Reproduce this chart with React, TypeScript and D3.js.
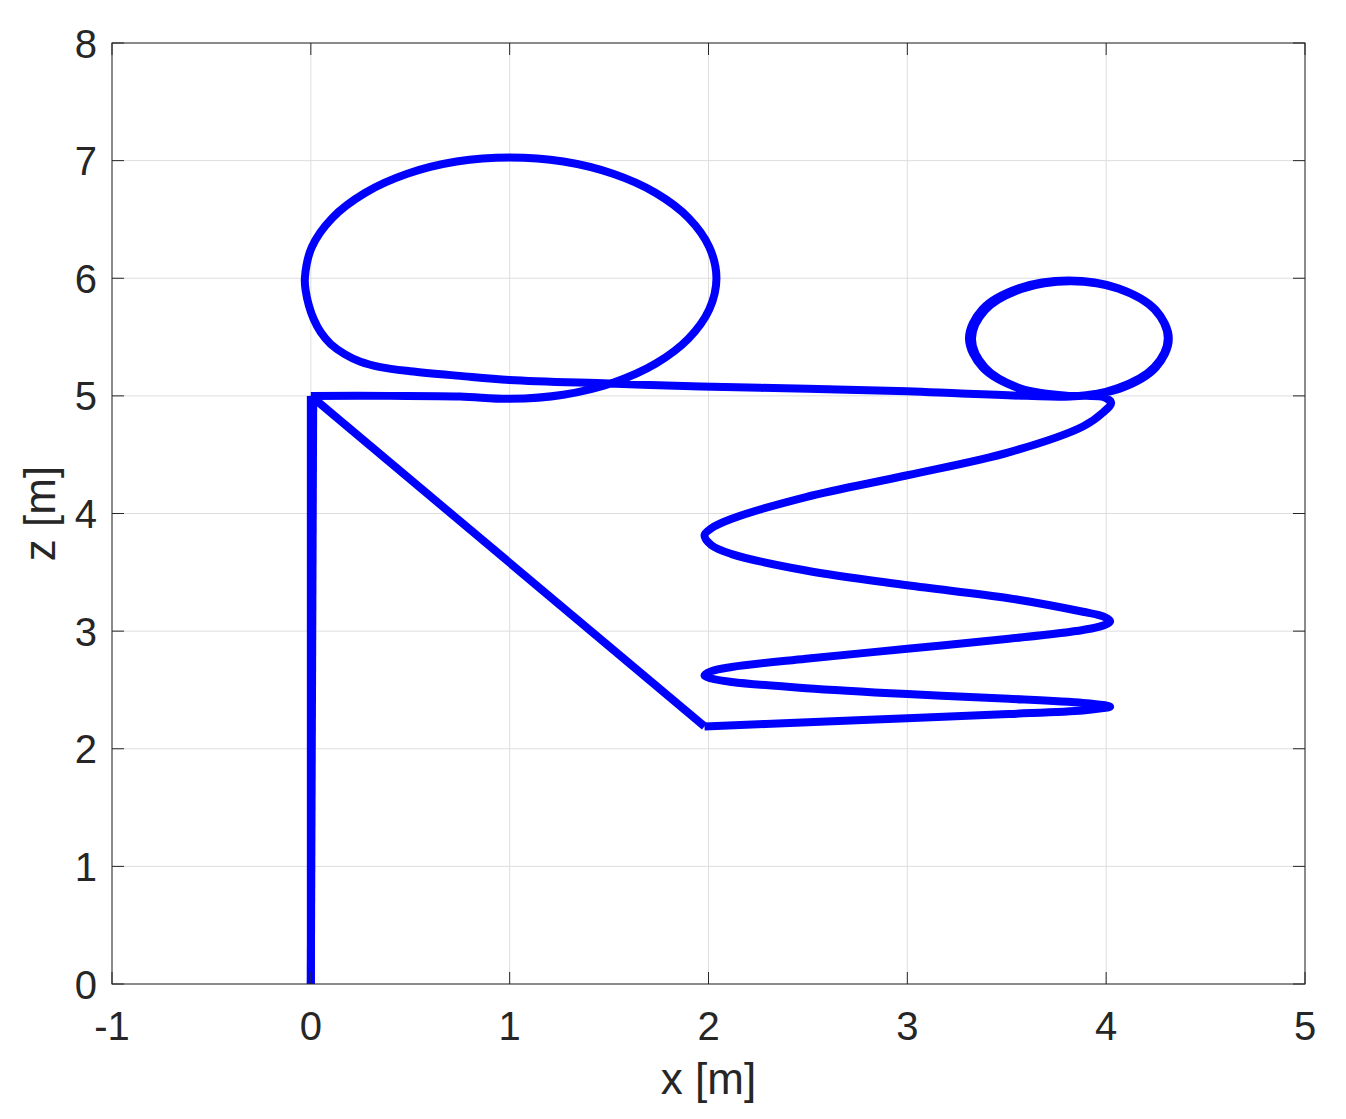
import React from "react";
import * as d3 from "d3";

type P = [number, number];

const xTicks = [-1, 0, 1, 2, 3, 4, 5];
const zTicks = [0, 1, 2, 3, 4, 5, 6, 7, 8];

const climbUp: P[] = [[0.0, 0.0], [0.012, 5.0]];
const diagonal: P[] = [[0.0, 5.0], [1.98, 2.19]];
const descend: P[] = [[0.0, 5.0], [0.0, 0.0]];

const zigzag: P[] = [
  // arm 1 (rightward)
  [1.98, 2.19], [2.5, 2.225], [3.0, 2.26], [3.51, 2.295], [3.883, 2.325], [3.985, 2.345], [4.02, 2.357],
  // arm 2 (leftward)
  [3.985, 2.372], [3.883, 2.39], [3.51, 2.425], [3.0, 2.465], [2.49, 2.515], [2.117, 2.568], [2.015, 2.597], [1.98, 2.625],
  // arm 3 (rightward)
  [2.015, 2.66], [2.117, 2.695], [2.49, 2.765], [3.0, 2.85], [3.51, 2.935], [3.883, 3.01], [3.985, 3.048], [4.02, 3.085],
  // arm 4 (leftward)
  [3.985, 3.125], [3.883, 3.165], [3.51, 3.28], [3.0, 3.39], [2.49, 3.515], [2.117, 3.655], [2.015, 3.73], [1.98, 3.815],
  // arm 5 (rightward)
  [2.015, 3.875], [2.117, 3.955], [2.49, 4.14], [3.0, 4.325], [3.51, 4.52], [3.883, 4.74], [3.985, 4.86], [4.025, 4.94],
  [3.99, 4.988], [3.9, 5.0],
];

const smallLoopA: P[] = [
  [3.81, 5.0], [3.56, 5.066], [3.377, 5.245], [3.31, 5.49], [3.377, 5.735], [3.56, 5.914],
  [3.81, 5.98], [4.06, 5.914], [4.243, 5.735], [4.31, 5.49], [4.243, 5.245], [4.06, 5.066],
];

const smallLoopB: P[] = [
  [3.82, 4.995], [3.573, 5.061], [3.391, 5.24], [3.325, 5.485], [3.391, 5.73], [3.573, 5.909],
  [3.82, 5.975], [4.068, 5.909], [4.249, 5.73], [4.315, 5.485], [4.249, 5.24], [4.068, 5.061],
  [3.82, 4.995],
];

const returnLine: P[] = [
  [3.6, 5.0], [3.27, 5.02], [3.0, 5.04], [2.5, 5.06], [1.96, 5.08], [1.5, 5.105], [1.0, 5.135],
  [0.75, 5.17], [0.5, 5.21], [0.35, 5.245], [0.25, 5.29], [0.17, 5.355], [0.1, 5.44],
  [0.05, 5.54], [0.015, 5.65], [-0.01, 5.77], [-0.025, 5.885],
];

const bigLoop: P[] = [
  [-0.03, 6.0], [0.005, 6.265], [0.108, 6.513], [0.272, 6.725], [0.485, 6.888], [0.733, 6.992],
  [1.0, 7.027], [1.27, 6.992], [1.52, 6.888], [1.735, 6.725], [1.9, 6.513], [2.004, 6.265],
  [2.04, 6.0], [2.004, 5.735], [1.9, 5.488], [1.735, 5.275], [1.52, 5.112], [1.27, 5.01],
  [1.0, 4.975], [0.75, 4.995], [0.4, 5.0], [0.0, 5.0],
];

const W = 1346;
const H = 1119;
const L = 112, R = 1305, T = 43, B = 984;
const AX = "#262626";
const GRID = "#dedede";
const BLUE = "#0000ff";
const FONT = "'Liberation Sans', Arial, Helvetica, sans-serif";

export default function App() {
  const x = d3.scaleLinear().domain([-1, 5]).range([L, R]);
  const y = d3.scaleLinear().domain([0, 8]).range([B, T]);

  const straight = d3.line<P>().x((d) => x(d[0])).y((d) => y(d[1]));
  const smooth = d3
    .line<P>()
    .x((d) => x(d[0]))
    .y((d) => y(d[1]))
    .curve(d3.curveCatmullRom.alpha(0.5));

  const smoothPts: P[] = [...zigzag, ...smallLoopA, ...smallLoopB, ...returnLine, ...bigLoop];
  const tickLen = 12;

  return (
    <svg
      width={W}
      height={H}
      style={{ position: "absolute", left: 0, top: 0, background: "#fff" }}
    >
      <rect x={0} y={0} width={W} height={H} fill="#fff" />
      {/* grid */}
      <g stroke={GRID} strokeWidth={1}>
        {xTicks.map((t) => (
          <line key={"gx" + t} x1={x(t)} x2={x(t)} y1={T} y2={B} />
        ))}
        {zTicks.map((t) => (
          <line key={"gy" + t} x1={L} x2={R} y1={y(t)} y2={y(t)} />
        ))}
      </g>

      {/* data */}
      <g fill="none" stroke={BLUE} strokeWidth={8} strokeLinejoin="round" strokeLinecap="butt">
        <path d={straight(climbUp) || ""} />
        <path d={straight(descend) || ""} />
        <path d={straight(diagonal) || ""} />
        <path d={smooth(smoothPts) || ""} />
      </g>

      {/* axes box and ticks */}
      <g stroke={AX} strokeWidth={1} fill="none">
        <rect x={L} y={T} width={R - L} height={B - T} />
        {xTicks.map((t) => (
          <g key={"tx" + t}>
            <line x1={x(t)} x2={x(t)} y1={B} y2={B - tickLen} />
            <line x1={x(t)} x2={x(t)} y1={T} y2={T + tickLen} />
          </g>
        ))}
        {zTicks.map((t) => (
          <g key={"ty" + t}>
            <line x1={L} x2={L + tickLen} y1={y(t)} y2={y(t)} />
            <line x1={R} x2={R - tickLen} y1={y(t)} y2={y(t)} />
          </g>
        ))}
      </g>

      {/* tick labels */}
      <g fill={AX} fontFamily={FONT} fontSize={40}>
        {xTicks.map((t) => (
          <text key={"lx" + t} x={x(t)} y={1040} textAnchor="middle">
            {String(t)}
          </text>
        ))}
        {zTicks.map((t) => (
          <text key={"ly" + t} x={97} y={y(t) + 14.5} textAnchor="end">
            {String(t)}
          </text>
        ))}
      </g>

      {/* axis labels */}
      <g fill={AX} fontFamily={FONT} fontSize={44}>
        <text x={(L + R) / 2} y={1094} textAnchor="middle">
          x [m]
        </text>
        <text
          transform={`translate(55, ${(T + B) / 2}) rotate(-90)`}
          textAnchor="middle"
        >
          z [m]
        </text>
      </g>
    </svg>
  );
}
